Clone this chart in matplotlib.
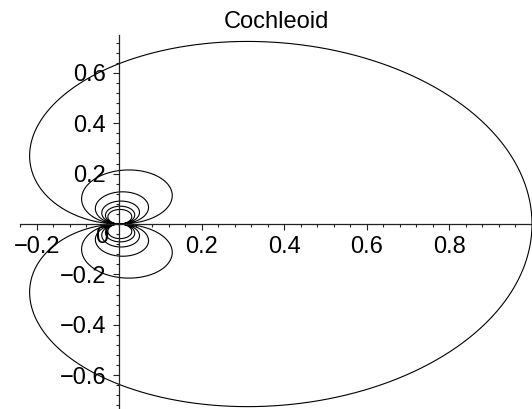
import numpy as np
import matplotlib.pyplot as plt

# Cochleoid r = sin(t)/t, traced over t in [t_min, t_max]
t_min = -6 * np.pi
t_max = 6 * np.pi
n_points = 6000

title = "Cochleoid"
x_major = [-0.2, 0.2, 0.4, 0.6, 0.8, 1.0]
x_labels = ["\u22120.2", "0.2", "0.4", "0.6", "0.8", ""]
y_major = [-0.6, -0.4, -0.2, 0.2, 0.4, 0.6]
y_labels = ["\u22120.6", "\u22120.4", "\u22120.2", "0.2", "0.4", "0.6"]

plt.rcParams['font.family'] = ['Liberation Sans', 'DejaVu Sans']

t = np.linspace(t_min, t_max, n_points)
r = np.sinc(t / np.pi)  # sin(t)/t, safe at t = 0
x = r * np.cos(t)
y = r * np.sin(t)

fig = plt.figure(figsize=(5.32, 4.09), dpi=100)
ax = fig.add_axes([0, 0, 1, 1])
ax.plot(x, y, color='black', lw=0.8)

ax.set_xlim(-0.289, 1.0)
ax.set_ylim(-0.734, 0.889)

# axes crossing at the origin
for side in ['top', 'right']:
    ax.spines[side].set_visible(False)
ax.spines['left'].set_position(('data', 0))
ax.spines['bottom'].set_position(('data', 0))
ax.spines['bottom'].set_bounds(-0.24, 1.0)
ax.spines['left'].set_bounds(-0.73, 0.75)
for side in ['left', 'bottom']:
    ax.spines[side].set_linewidth(0.9)
    ax.spines[side].set_color('#222222')

ax.set_xticks(x_major)
ax.set_xticklabels(x_labels)
ax.set_xticks(np.arange(-6, 26) * 0.04, minor=True)
ax.set_yticks(y_major)
ax.set_yticklabels(y_labels)
ax.set_yticks(np.arange(-18, 19) * 0.04, minor=True)

ax.tick_params(which='major', length=4.5, width=0.8, labelsize=17,
               direction='out', color='#222222')
ax.tick_params(which='minor', length=2.5, width=0.8, direction='out',
               color='#222222')
ax.tick_params(axis='x', pad=4)
ax.tick_params(axis='y', pad=5)

ax.text(-0.042, -0.052, "0", fontsize=17, ha='center', va='center')

fig.text(276 / 532, 1 - 22 / 409, title, fontsize=17,
         ha='center', va='center')

fig.savefig('out.png', dpi=100)
